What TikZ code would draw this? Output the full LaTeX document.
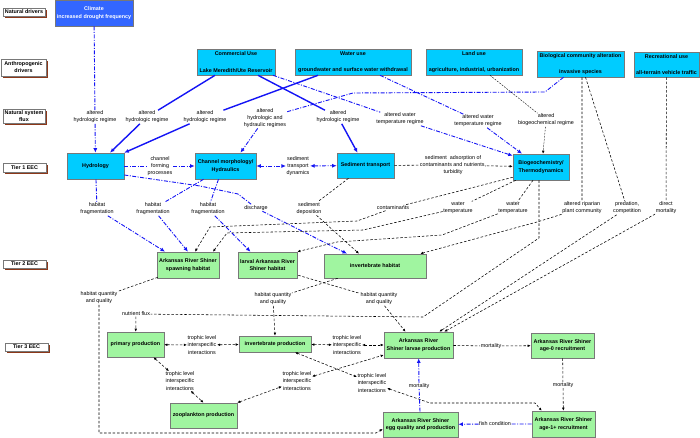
\documentclass[tikz,border=0pt]{standalone}
\usepackage{fontspec}
\setmainfont{Liberation Sans}
\usetikzlibrary{arrows.meta,shadows,calc}
\definecolor{cyanbox}{RGB}{0,204,255}
\definecolor{greenbox}{RGB}{160,245,160}
\definecolor{climblue}{RGB}{51,102,255}
\definecolor{flowblue}{RGB}{20,20,245}
\definecolor{shadowbrown}{RGB}{140,55,25}
\definecolor{boxedge}{RGB}{120,120,120}
\begin{document}
\begin{tikzpicture}[x=1pt,y=-1pt,
  every node/.style={inner sep=0.5pt, align=center},
  lab/.style={font=\fontsize{5.4}{7.2}\selectfont},
  tierlab/.style={draw=boxedge, fill=white, line width=0.4pt, font=\bfseries\fontsize{5.4}{7}\selectfont,
    drop shadow={shadow xshift=1.8pt, shadow yshift=-1.8pt, fill=shadowbrown, opacity=1}},
  cbox/.style={draw=boxedge, fill=cyanbox, line width=0.6pt, font=\bfseries\fontsize{5.4}{7.4}\selectfont},
  gbox/.style={draw=boxedge, fill=greenbox, line width=0.6pt, font=\bfseries\fontsize{5.4}{7.4}\selectfont},
  bdd/.style={draw=flowblue, line width=0.9pt, dash pattern=on 4pt off 1.5pt on 1pt off 1.5pt},
  bsol/.style={draw=flowblue, line width=1.4pt},
  kd/.style={draw=black, line width=0.55pt, dash pattern=on 2.5pt off 1.8pt},
  kdthin/.style={draw=black, line width=0.4pt, dash pattern=on 1.8pt off 1.2pt},
  bar/.style={-{Latex[length=4.5pt,width=4pt]}},
  bdbl/.style={{Latex[length=4.5pt,width=4pt]}-{Latex[length=4.5pt,width=4pt]}},
  kar/.style={-{Latex[length=3pt,width=2.6pt]}},
  kdbl/.style={{Latex[length=3pt,width=2.6pt]}-{Latex[length=3pt,width=2.6pt]}}
]
\fill[white] (0,0) rectangle (700,438);
\useasboundingbox (0,0) rectangle (700,438);

% tier labels
\node[tierlab, minimum width=42, minimum height=8] (t0) at (24,12) {Natural drivers};
\node[tierlab, minimum width=45, minimum height=17] (t1) at (23.5,67.5) {Anthropogenic\\drivers};
\node[tierlab, minimum width=42, minimum height=14] (t2) at (24,116) {Natural system\\flux};
\node[tierlab, minimum width=43, minimum height=9] (t3) at (24.5,167.5) {Tier 1 EEC};
\node[tierlab, minimum width=43, minimum height=8] (t4) at (24.5,264) {Tier 2 EEC};
\node[tierlab, minimum width=43, minimum height=8] (t5) at (26.5,347) {Tier 3 EEC};

% drivers
\node[draw=boxedge, fill=climblue, text=white, line width=0.6pt, font=\bfseries\fontsize{5.4}{8}\selectfont,
  minimum width=78, minimum height=26] (climate) at (94,13) {Climate\\increased drought frequency};
\node[cbox, minimum width=78, minimum height=26] (comm) at (236,62) {Commercial Use\\[9pt]Lake Meredith/Ute Reservoir};
\node[cbox, minimum width=116, minimum height=26] (water) at (353,62) {Water use\\[9pt]groundwater and surface water withdrawal};
\node[cbox, minimum width=96, minimum height=26] (land) at (474,62) {Land use\\[9pt]agriculture, industrial, urbanization};
\node[cbox, minimum width=87, minimum height=26] (bio) at (580.5,64) {Biological community alteration\\[9pt]invasive species};
\node[cbox, minimum width=65, minimum height=25] (rec) at (666.5,64.5) {Recreational use\\[8pt]all-terrain vehicle traffic};

% tier 1
\node[cbox, minimum width=57, minimum height=26] (hyd) at (95.5,166) {Hydrology};
\node[cbox, minimum width=61, minimum height=26] (chan) at (225.5,166) {Channel morphology/\\Hydraulics};
\node[cbox, minimum width=57, minimum height=25] (sed) at (365.5,165.5) {Sediment transport};
\node[cbox, minimum width=56, minimum height=26] (biogeo) at (541,167) {Biogeochemistry/\\Thermodynamics};

% tier 2
\node[gbox, minimum width=62, minimum height=26] (spawn) at (188,265) {Arkansas River Shiner\\spawning habitat};
\node[gbox, minimum width=59, minimum height=26] (larval) at (267.5,265) {larval Arkansas River\\Shiner habitat};
\node[gbox, minimum width=102, minimum height=24] (invhab) at (375,266) {invertebrate habitat};

% tier 3
\node[gbox, minimum width=57, minimum height=25] (prim) at (135.5,344.5) {primary production};
\node[gbox, minimum width=72, minimum height=16] (invprod) at (275,344) {invertebrate production};
\node[gbox, minimum width=69, minimum height=26] (larvae) at (418.5,345) {Arkansas River\\Shiner larvae production};
\node[gbox, minimum width=63, minimum height=25] (age0) at (562.5,345.5) {Arkansas River Shiner\\age-0 recruitment};
\node[gbox, minimum width=67, minimum height=25] (zoo) at (203.5,415.5) {zooplankton production};
\node[gbox, minimum width=75, minimum height=25] (egg) at (420.5,424.5) {Arkansas River Shiner\\egg quality and production};
\node[gbox, minimum width=63, minimum height=26] (age1) at (563.5,424) {Arkansas River Shiner\\age-1+ recruitment};

% labels
\node[lab] (L1) at (95,117) {altered\\hydrologic regime};
\node[lab] (L2) at (147,117) {altered\\hydrologic regime};
\node[lab] (L3) at (205,117) {altered\\hydrologic regime};
\node[lab] (L4) at (265,118) {altered\\hydrologic and\\hydraulic regimes};
\node[lab] (L5) at (338,117) {altered\\hydrologic regime};
\node[lab] (L6) at (400,119) {altered water\\temperature regime};
\node[lab] (L7) at (478,121) {altered water\\temperature regime};
\node[lab] (L8) at (546,120) {altered\\biogeochemical regime};
\node[lab] (L9) at (160,166) {channel\\forming\\processes};
\node[lab] (L10) at (298,166) {sediment\\transport\\dynamics};
\node[lab] (L11) at (453,165) {sediment\ \ adsorption of\\contaminants and nutrients,\\turbidity};
\node[lab] (L12) at (97,209) {habitat\\fragmentation};
\node[lab] (L13) at (153,209) {habitat\\fragmentation};
\node[lab] (L14) at (208,209) {habitat\\fragmentation};
\node[lab] (L15) at (256,208) {discharge};
\node[lab] (L16) at (309,208.5) {sediment\\deposition};
\node[lab] (L17) at (393,208) {contaminants};
\node[lab] (L18) at (458,208) {water\\temperature};
\node[lab] (L19) at (513,208) {water\\temperature};
\node[lab] (L20) at (582,208) {altered riparian\\plant community};
\node[lab] (L21) at (627,208) {predation,\\competition};
\node[lab] (L22) at (666,208) {direct\\mortality};
\node[lab] (L23) at (99,298) {habitat quantity\\and quality};
\node[lab] (L24) at (273,299) {habitat quantity\\and quality};
\node[lab] (L25) at (379,299) {habitat quantity\\and quality};
\node[lab] (L26) at (136,314) {nutrient flux};
\node[lab] (L27) at (202,345) {trophic level\\interspecific\\interactions};
\node[lab] (L28) at (347,345) {trophic level\\interspecific\\interactions};
\node[lab] (L29) at (180,381) {trophic level\\interspecific\\interactions};
\node[lab] (L30) at (297,381) {trophic level\\interspecific\\interactions};
\node[lab] (L31) at (372,383) {trophic level\\interspecific\\interactions};
\node[lab] (L32) at (491,346) {mortality};
\node[lab] (L33) at (563,385) {mortality};
\node[lab] (L34) at (495,424) {fish condition};
\node[lab] (L35) at (419,386) {mortality};

% bend coordinates
\coordinate (c7a) at (545,92);
\coordinate (c7b) at (353,93);
\coordinate (c14a) at (200,186);
\coordinate (c14b) at (238,194);
\coordinate (c17a) at (357,221);
\coordinate (c17b) at (210,227);
\coordinate (c18a) at (363,230);
\coordinate (c18b) at (227,233);
\coordinate (c19a) at (442,235);
\coordinate (c19b) at (337,242);
\coordinate (c20a) at (537,222);
\coordinate (c21a) at (539,238);
\coordinate (c21b) at (423,317);
\coordinate (c24a) at (99,433);
\coordinate (c24b) at (376,433);
\coordinate (c32a) at (430,403);
\coordinate (c32b) at (535,403);

% drivers -> tier 1
\draw[bdd, bar] (climate) -- (L1) -- (hyd);
\draw[bsol, bar] ($(comm.south)+(-21,0)$) -- (L2) -- ($(hyd.north)+(14.5,0)$);
\draw[bsol, bar] ($(water.south)+(-35,0)$) -- (L3) -- (hyd.north east);
\draw[bsol, bar] ($(comm.south)+(22,0)$) -- (L5) -- ($(sed.north)+(-8,0)$);
\draw[bdd, bar] ($(comm.south)+(37,0)$) -- (L6) -- ($(biogeo.north west)+(0,2)$);
\draw[bdd, bar] ($(water.south)+(27,0)$) -- (L7) -- ($(biogeo.north)+(-19,0)$);
\draw[bdd, bar] ($(bio.south)+(-17,0)$) -- (c7a) -- (c7b) -- (L4) -- ($(chan.north)+(15,0)$);
\draw[kdthin, kar] ($(land.south)+(16,0)$) -- (L8) -- ($(biogeo.north)+(2,0)$);

% tier 1 internal
\draw[bdd, bar] (hyd) -- (L9) -- (chan);
\draw[bdd, bdbl] (chan) -- (L10);
\draw[bdd, bdbl] (L10) -- (sed);
\draw[kd, kar] (sed) -- (L11) -- (biogeo);

% tier 1 -> tier 2
\draw[bdd, bar] (hyd) -- (L12) -- ($(spawn.north)+(-23,0)$);
\draw[bdd, bar] ($(chan.south)+(-22,0)$) -- (L13) -- (spawn.north);
\draw[bdd, bar] ($(chan.south)+(-7,0)$) -- (L14) -- ($(larval.north)+(-17,0)$);
\draw[bdd, bar] ($(hyd.east)+(0,9)$) -- (c14a) -- (c14b) -- (L15) -- ($(invhab.north)+(-28,0)$);
\draw[kd, kar] ($(sed.south)+(-17,0)$) -- (L16) -- ($(invhab.north)+(-16,0)$);
\draw[kd, kar] ($(biogeo.south west)+(0,-3)$) -- (L17) -- (c17a) -- (c17b) -- ($(spawn.north)+(7,0)$);
\draw[kd, kar] ($(biogeo.south west)+(3,0)$) -- (L18) -- (c18a) -- (c18b) -- ($(spawn.north)+(25,0)$);
\draw[kd, kar] ($(biogeo.south)+(-8,0)$) -- (L19) -- (c19a) -- (c19b) -- (larval.north east);
\draw[kd, kar] ($(bio.south)+(1.5,0)$) -- (L20) -- (c20a) -- ($(invhab.north east)+(-6,0)$);
\draw[kd, kar] ($(biogeo.south)+(-2,0)$) -- (c21a) -- (c21b) -- (L26) -- (prim);
\draw[kd, kar] ($(bio.south)+(5,0)$) -- (L21) -- ($(larvae.north east)+(-14,0)$);
\draw[kd, kar] (rec) -- (L22) -- ($(larvae.north east)+(-9,0)$);

% tier 2 -> tier 3
\draw[kd, kar] ($(spawn.south west)+(1,-1)$) -- (L23) -- (c24a) -- (c24b) -- ($(egg.west)+(0,4.5)$);
\draw[kd, kar] ($(invhab.south west)+(14,0)$) -- (L24) -- (invprod.north);
\draw[kd, kar] ($(larval.south east)+(1,-3)$) -- (L25) -- ($(larvae.north)+(-13,0)$);

% tier 3 internal
\draw[kd, kdbl] (prim) -- (L27);
\draw[kd, kdbl] (L27) -- (invprod);
\draw[kd, kdbl] (invprod) -- (L28);
\draw[kd, kdbl] (L28) -- (larvae);
\draw[kd, kdbl] ($(prim.south)+(18,0)$) -- (L29);
\draw[kd, kdbl] (L29) -- (zoo.north);
\draw[kd, kdbl] (zoo.north east) -- (L30);
\draw[kd, kdbl] (L30) -- ($(larvae.west)+(0,10)$);
\draw[kd, kdbl] ($(invprod.south)+(20,0)$) -- (L31);
\draw[kd, kdbl] (L31) -- (c32a) -- (c32b) -- ($(age1.north west)+(10,0)$);
\draw[kd, kar] (larvae) -- (L32) -- (age0);
\draw[kd, kar] (age0) -- (L33) -- (age1);
\draw[bdd, bar] (age1) -- (L34) -- (egg);
\draw[bdd, bar] (egg) -- (L35) -- (larvae);
\end{tikzpicture}
\end{document}
